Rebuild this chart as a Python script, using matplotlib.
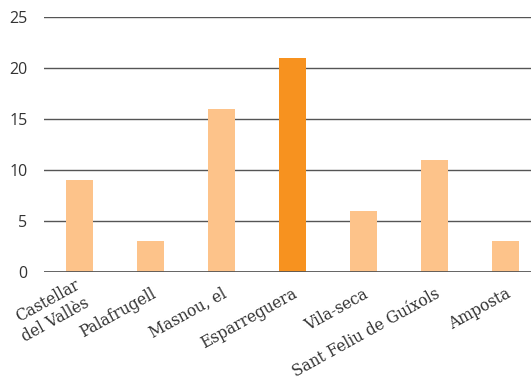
import matplotlib
matplotlib.use("Agg")
import matplotlib.pyplot as plt
import matplotlib.transforms as mtransforms

categories = ["Castellar\ndel Vallès", "Palafrugell", "Masnou, el", "Esparreguera",
              "Vila-seca", "Sant Feliu de Guíxols", "Amposta"]
values = [9, 3, 16, 21, 6, 11, 3]
highlight = "Esparreguera"
yticks = [0, 5, 10, 15, 20, 25]

light = "#fdc38a"
dark = "#f7921f"
colors = [dark if c == highlight else light for c in categories]

fig = plt.figure(figsize=(5.31, 3.82), dpi=100)
ax = fig.add_axes([44 / 531, 1 - 272 / 382, 1 - 44 / 531, (272 - 17) / 382])

x = list(range(len(categories)))
ax.bar(x, values, width=0.37, color=colors, zorder=3)

ax.set_ylim(0, 25)
ax.set_xlim(-0.5, 6.36)
ax.set_yticks(yticks)
for t in yticks:
    ax.axhline(t, color="#555555", lw=2.0 if t == 0 else 1.0, zorder=4 if t == 0 else 1)

for s in ax.spines.values():
    s.set_visible(False)
ax.tick_params(axis="y", length=0, pad=12, labelsize=11.5, labelcolor="#333333")
ax.tick_params(axis="x", length=0, pad=0)
for lbl in ax.get_yticklabels():
    lbl.set_fontfamily("Open Sans")

ax.set_xticks(x)
ax.set_xticklabels(categories, rotation=29, ha="right", va="center",
                   rotation_mode="anchor", fontfamily="DejaVu Serif",
                   fontsize=11.2, color="#333333", linespacing=1.2)
offset = mtransforms.ScaledTranslation(4 / 100, -21 / 100, fig.dpi_scale_trans)
for lbl in ax.get_xticklabels():
    lbl.set_transform(lbl.get_transform() + offset)
    lbl.set_multialignment("right")

fig.savefig("out.png", dpi=100)
